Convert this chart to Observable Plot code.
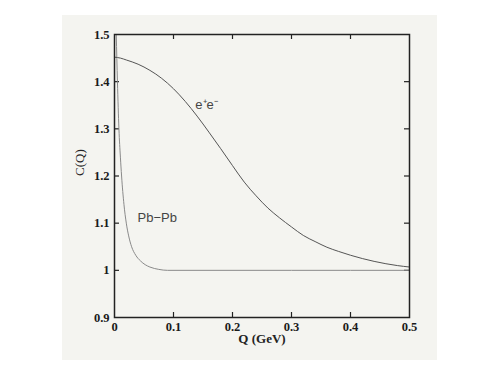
<!DOCTYPE html>
<html>
<head>
<meta charset="utf-8">
<script src="https://cdn.jsdelivr.net/npm/d3@7"></script>
<script src="https://cdn.jsdelivr.net/npm/@observablehq/plot@0.6"></script>
<style>
  html, body { margin: 0; padding: 0; background: #ffffff; }
  #wrap { position: relative; width: 491px; height: 368px; }
  #paper { position: absolute; left: 62px; top: 15px; width: 375px; height: 345px; background: #f4f4f0; }
  #chart { position: absolute; left: 0; top: 0; }
</style>
</head>
<body>
<div id="wrap"><div id="paper"></div><div id="chart"></div></div>
<script>
// e+e- correlation curve
const eeQ = [0, 0.01, 0.02, 0.04, 0.06, 0.08, 0.10, 0.12, 0.14, 0.16, 0.18, 0.20, 0.22, 0.24, 0.26, 0.28, 0.30, 0.32, 0.34, 0.36, 0.38, 0.40, 0.42, 0.44, 0.46, 0.48, 0.50];
const eeC = [1.452, 1.450, 1.446, 1.437, 1.424, 1.407, 1.385, 1.358, 1.327, 1.293, 1.258, 1.222, 1.187, 1.158, 1.132, 1.111, 1.092, 1.074, 1.061, 1.049, 1.040, 1.032, 1.025, 1.019, 1.014, 1.010, 1.007];
// Pb-Pb correlation curve
const pbQ = [0.003, 0.005, 0.0075, 0.010, 0.012, 0.016, 0.020, 0.024, 0.029, 0.036, 0.044, 0.052, 0.060, 0.075, 0.090, 0.15, 0.30, 0.50];
const pbC = [1.50, 1.40, 1.30, 1.24, 1.20, 1.14, 1.10, 1.073, 1.050, 1.032, 1.020, 1.012, 1.007, 1.002, 1.000, 1.000, 1.000, 1.000];
// ticks
const xTicks = [0, 0.1, 0.2, 0.3, 0.4, 0.5];
const xTickLabels = ["0", "0.1", "0.2", "0.3", "0.4", "0.5"];
const yTicks = [0.9, 1.0, 1.1, 1.2, 1.3, 1.4, 1.5];
const yTickLabels = ["0.9", "1", "1.1", "1.2", "1.3", "1.4", "1.5"];
// labels
const curveLabels = [
  {Q: 0.137, C: 1.350, text: "e\u207Ae\u207B"},
  {Q: 0.039, C: 1.112, text: "Pb\u2212Pb"}
];

const ee = eeQ.map((q, i) => ({Q: q, C: eeC[i]}));
const pb = pbQ.map((q, i) => ({Q: q, C: pbC[i]}));

const W = 491, H = 368;
const mL = 114, mR = 82, mT = 34, mB = 51;
const pw = W - mL - mR, ph = H - mT - mB;
const serif = "'Liberation Serif', 'DejaVu Serif', serif";
const sans = "'Liberation Sans', Arial, sans-serif";

const innerX = xTicks.slice(1, -1);
const innerY = yTicks.slice(1, -1);

const chart = Plot.plot({
  width: W, height: H,
  marginLeft: mL, marginRight: mR, marginTop: mT, marginBottom: mB,
  style: {background: "transparent", fontFamily: serif, fontSize: "12.5px"},
  x: {domain: [0, 0.5]},
  y: {domain: [0.9, 1.5]},
  marks: [
    Plot.axisX(xTicks, {tickSize: 0, tickPadding: 5, tickFormat: (d, i) => xTickLabels[i],
      fontSize: 12.5, fontWeight: "bold", fill: "#1a1a1a", label: null}),
    Plot.axisY(yTicks, {tickSize: 0, tickPadding: 5, tickFormat: (d, i) => yTickLabels[i],
      fontSize: 12.5, fontWeight: "bold", fill: "#1a1a1a", label: null}),
    // inward ticks
    Plot.tickX(innerX, {x: d => d, insetTop: ph - 5, stroke: "#222", strokeWidth: 1.2}),
    Plot.tickX(innerX, {x: d => d, insetBottom: ph - 5, stroke: "#222", strokeWidth: 1.2}),
    Plot.tickY(innerY, {y: d => d, insetRight: pw - 5, stroke: "#222", strokeWidth: 1.2}),
    Plot.tickY(innerY, {y: d => d, insetLeft: pw - 5, stroke: "#222", strokeWidth: 1.2}),
    Plot.line(pb, {x: "Q", y: "C", stroke: "#8a8a8a", strokeWidth: 1, curve: "monotone-x", clip: true}),
    Plot.line(ee, {x: "Q", y: "C", stroke: "#555", strokeWidth: 1, curve: "monotone-x"}),
    Plot.text(curveLabels, {x: "Q", y: "C", text: "text", textAnchor: "start",
      fontFamily: sans, fontSize: 13, fill: "#444"}),
    Plot.frame({stroke: "#222", strokeWidth: 1.5}),
    Plot.text(["Q (GeV)"], {frameAnchor: "bottom", dy: 25, fontSize: 13, fontWeight: 600, fill: "#222", fontFamily: serif}),
    Plot.text(["C(Q)"], {frameAnchor: "left", dx: -35, rotate: -90, fontSize: 13, fill: "#222", fontFamily: serif})
  ]
});
document.getElementById("chart").appendChild(chart);
</script>
</body>
</html>
